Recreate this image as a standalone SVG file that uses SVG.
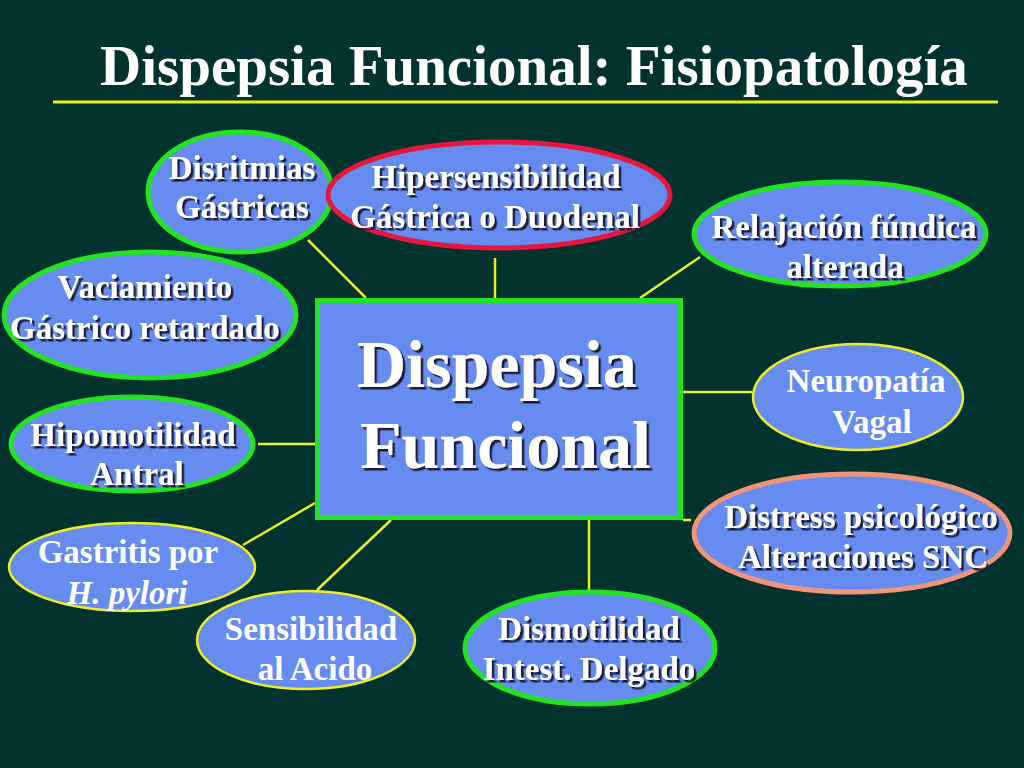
<svg xmlns="http://www.w3.org/2000/svg" width="1024" height="768" viewBox="0 0 1024 768">
<defs>
<filter id="sh" x="-10%" y="-20%" width="130%" height="150%">
<feDropShadow dx="2.5" dy="2.5" stdDeviation="0.6" flood-color="#1a1a35" flood-opacity="1"/>
</filter>
<style>
.bg{fill:#02332F}
.node{fill:#668CF2}
.g{stroke:#22E322;stroke-width:5}
.y{stroke:#EEEE22;stroke-width:2.5}
.r{stroke:#E8163C;stroke-width:5}
.s{stroke:#F0957A;stroke-width:5}
.t{font-family:"Liberation Serif","Times New Roman",serif;font-weight:bold;font-size:33px;fill:#ffffff;text-anchor:middle}
.sh{filter:url(#sh)}
.c line{stroke:#EEEE22;stroke-width:2.5}
</style>
</defs>
<rect class="bg" x="0" y="0" width="1024" height="768"/>
<g id="title">
<text x="100" y="85" style="font-family:'Liberation Serif','Times New Roman',serif;font-weight:bold;font-size:57px;fill:#ffffff">Dispepsia Funcional: Fisiopatología</text>
<line x1="53" y1="102" x2="998" y2="102" stroke="#E5F01A" stroke-width="3"/>
</g>
<g id="connectors" class="c">
<line x1="308" y1="240" x2="366" y2="298"/>
<line x1="495" y1="258" x2="495" y2="298"/>
<line x1="700" y1="257" x2="640" y2="298"/>
<line x1="258" y1="444" x2="315" y2="444"/>
<line x1="683" y1="392" x2="752" y2="392"/>
<line x1="683" y1="520" x2="691" y2="520"/>
<line x1="243" y1="545" x2="315" y2="503"/>
<line x1="317" y1="590" x2="391" y2="520"/>
<line x1="589" y1="520" x2="589" y2="590"/>
</g>
<g id="center">
<rect class="node g" x="317.5" y="300.5" width="363" height="217"/>
<g class="sh" style="font-family:'Liberation Serif','Times New Roman',serif;font-weight:bold;font-size:68px;fill:#ffffff">
<text x="357" y="387">Dispepsia</text>
<text x="360" y="468">Funcional</text>
</g>
</g>
<g id="disritmias">
<ellipse class="node g" cx="240" cy="192" rx="92" ry="60"/>
<g class="t sh"><text x="242" y="179">Disritmias</text><text x="242" y="218">Gástricas</text></g>
</g>
<g id="hipersensibilidad">
<ellipse class="node r" cx="499" cy="195" rx="171" ry="53"/>
<g class="t sh"><text x="496" y="188">Hipersensibilidad</text><text x="495" y="228">Gástrica o Duodenal</text></g>
</g>
<g id="relajacion">
<ellipse class="node g" cx="840" cy="234" rx="146" ry="52"/>
<g class="t sh"><text x="844" y="238">Relajación fúndica</text><text x="845" y="278">alterada</text></g>
</g>
<g id="vaciamiento">
<ellipse class="node g" cx="150" cy="315" rx="146" ry="63"/>
<g class="t sh"><text x="145" y="298">Vaciamiento</text><text x="145" y="339">Gástrico retardado</text></g>
</g>
<g id="hipomotilidad">
<ellipse class="node g" cx="132" cy="444" rx="121" ry="47"/>
<g class="t sh"><text x="133" y="446">Hipomotilidad</text><text x="137" y="485">Antral</text></g>
</g>
<g id="neuropatia">
<ellipse class="node y" cx="858" cy="397" rx="105" ry="53"/>
<g class="t"><text x="866" y="392">Neuropatía</text><text x="872" y="433">Vagal</text></g>
</g>
<g id="distress">
<ellipse class="node s" cx="852" cy="533" rx="158" ry="59"/>
<g class="t sh"><text x="861" y="528">Distress psicológico</text><text x="863" y="568">Alteraciones SNC</text></g>
</g>
<g id="gastritis">
<ellipse class="node y" cx="132" cy="567" rx="123" ry="44"/>
<g class="t"><text x="128" y="563">Gastritis por</text><text x="127" y="604" font-style="italic">H. pylori</text></g>
</g>
<g id="sensibilidad">
<ellipse class="node y" cx="306" cy="640" rx="109" ry="49"/>
<g class="t"><text x="311" y="640">Sensibilidad</text><text x="315" y="680">al Acido</text></g>
</g>
<g id="dismotilidad">
<ellipse class="node g" cx="590" cy="648" rx="125" ry="56"/>
<g class="t sh"><text x="589" y="640">Dismotilidad</text><text x="589" y="680">Intest. Delgado</text></g>
</g>
</svg>
